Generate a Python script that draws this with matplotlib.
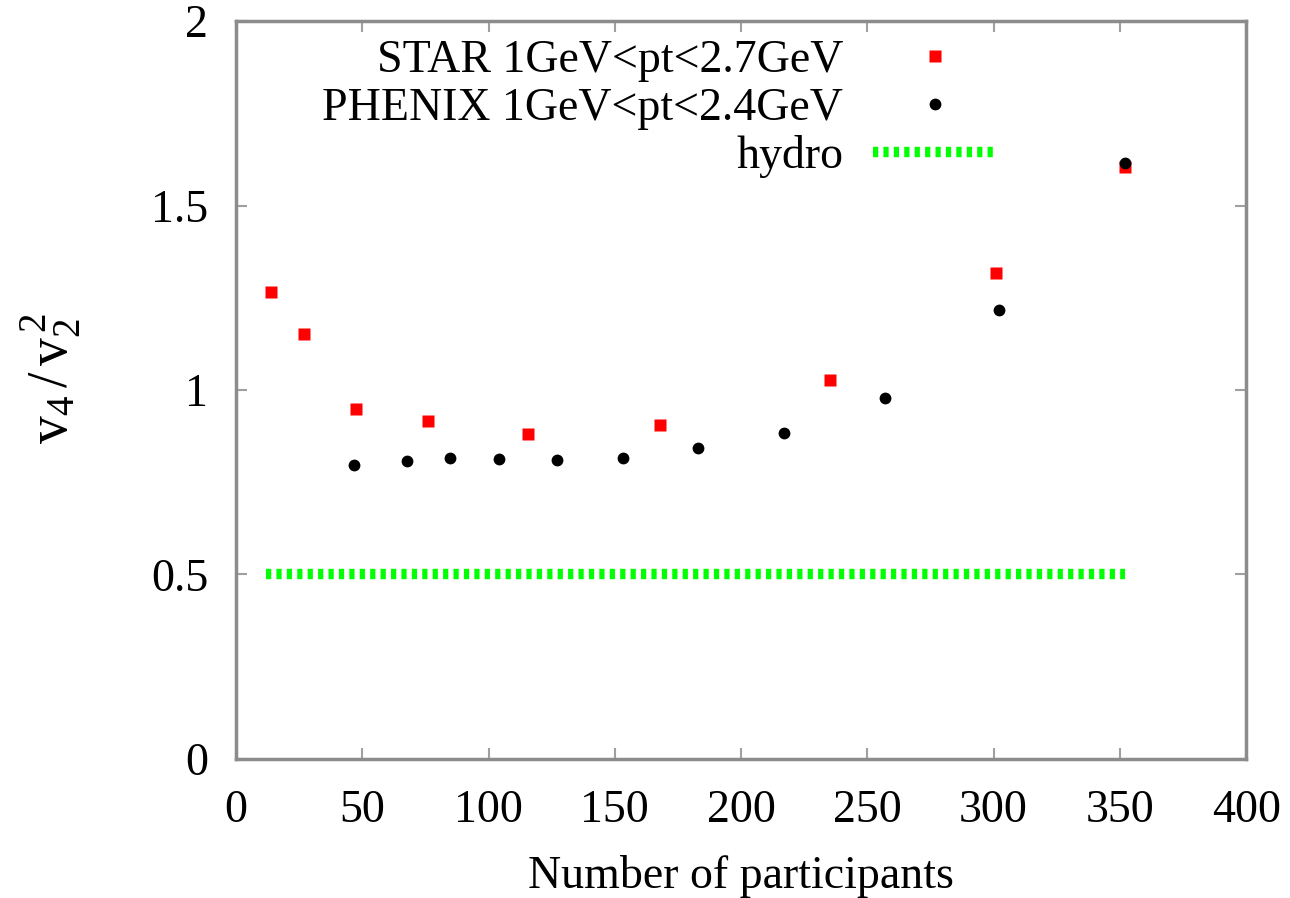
import numpy as np
import matplotlib.pyplot as plt

# STAR 1GeV<pt<2.7GeV
star_npart = [14.0, 27.0, 47.4, 76.0, 115.5, 167.8, 235.2, 300.9, 352.0]
star_ratio = [1.266, 1.151, 0.949, 0.916, 0.881, 0.906, 1.027, 1.316, 1.605]

# PHENIX 1GeV<pt<2.4GeV
phenix_npart = [46.7, 67.6, 84.6, 104.3, 127.0, 153.4, 182.9, 216.8, 257.0, 302.3, 352.1]
phenix_ratio = [0.797, 0.808, 0.815, 0.812, 0.810, 0.815, 0.844, 0.883, 0.978, 1.216, 1.614]

# hydro expectation
hydro_npart = [12.0, 352.0]
hydro_ratio = [0.5, 0.5]

xticks = [0, 50, 100, 150, 200, 250, 300, 350, 400]
yticks = [0, 0.5, 1, 1.5, 2]
ytick_labels = ["0", "0.5", "1", "1.5", "2"]

plt.rcParams['font.family'] = ['Liberation Serif', 'DejaVu Serif']
plt.rcParams['mathtext.fontset'] = 'custom'
plt.rcParams['mathtext.rm'] = 'Liberation Serif'
plt.rcParams['mathtext.it'] = 'Liberation Serif'

fs = 33
fig = plt.figure(figsize=(12.9, 8.98), dpi=100)
ax = fig.add_axes([0.183, 0.1548, 0.783, 0.8218])

ax.plot(star_npart, star_ratio, 's', color='#ff0000', ms=8, mec='none',
        label="STAR 1GeV<pt<2.7GeV", zorder=3)
ax.plot(phenix_npart, phenix_ratio, 'o', color='black', ms=8.5, mec='none',
        label="PHENIX 1GeV<pt<2.4GeV", zorder=4)
ax.plot(hydro_npart, hydro_ratio, '-', color='#00ff00', lw=7.5,
        dashes=(0.5, 0.5), dash_capstyle='butt', label="hydro", zorder=2)

ax.set_xlim(0, 400)
ax.set_ylim(0, 2)
ax.set_xticks(xticks)
ax.set_xticklabels([str(v) for v in xticks])
ax.set_yticks(yticks)
ax.set_yticklabels(ytick_labels)

for s in ax.spines.values():
    s.set_color('#8c8c8c')
    s.set_linewidth(2.5)
ax.tick_params(direction='in', length=8, width=1.5, color='#a0a0a0',
               top=True, right=True, labelsize=fs)
ax.tick_params(axis='x', pad=22)
ax.tick_params(axis='y', pad=20)

ax.set_xlabel("Number of participants", fontsize=fs)
ax.xaxis.set_label_coords(0.5, -0.13)
ax.set_ylabel(r"$\mathrm{v_4\,/\,v_2^{\,2}}$", fontsize=40)
ax.yaxis.set_label_coords(-0.152, 0.516)

ax.legend(loc='upper right', bbox_to_anchor=(0.753, 0.975), frameon=False,
          markerfirst=False, fontsize=fs, handlelength=2.7, handletextpad=0.65,
          labelspacing=0.12, borderpad=0, borderaxespad=0, numpoints=1)

fig.savefig("out.png", dpi=100)
